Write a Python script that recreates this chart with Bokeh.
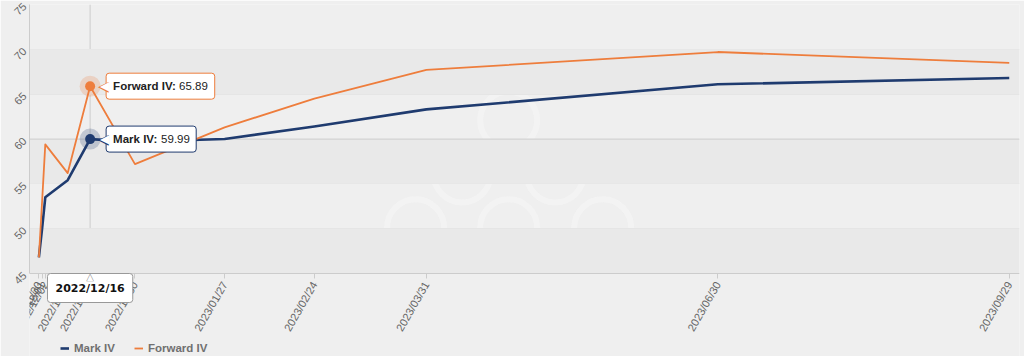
import numpy as np
from bokeh.plotting import figure
from bokeh.models import (Range1d, FixedTicker, DatetimeTickFormatter, Span, Label,
                          BoxAnnotation, Legend, LegendItem)
from bokeh.embed import file_html
from bokeh.resources import INLINE

# ---------------- data ----------------
DATES = ["2022-11-30", "2022-12-01", "2022-12-02", "2022-12-09", "2022-12-16",
         "2022-12-30", "2023-01-27", "2023-02-24", "2023-03-31", "2023-06-30",
         "2023-09-29"]
MARK_IV = [46.8, 50.0, 53.5, 55.4, 59.99, 59.7, 60.0, 61.4, 63.3, 66.1, 66.8]
FORWARD_IV = [46.8, 53.0, 59.4, 56.2, 65.89, 57.2, 61.3, 64.5, 67.7, 69.7, 68.5]
Y_TICKS = [45, 50, 55, 60, 65, 70, 75]
SERIES = ["Mark IV", "Forward IV"]
HOVER_INDEX = 4
HOVER_LABEL = "2022/12/16"

NAVY = "#1f3b6f"
ORANGE = "#ee7d3c"
BG = "#efefef"
BAND = "#e9e9e9"
DAY = 86400000.0

x = np.array(DATES, dtype="datetime64[ms]").astype("int64").astype(float)

FONT = "Liberation Sans"

# layout: value axis spans 269 px; the area below (83 px) holds the date axis + legend
PLOT_PX = 269.0
BELOW_PX = 83.0
ymin, ymax = Y_TICKS[0], Y_TICKS[-1]
px_per_unit = PLOT_PX / (ymax - ymin)

p = figure(width=1024, height=356, x_axis_type="datetime", output_backend="svg",
           toolbar_location=None,
           x_range=Range1d(x[0] - 2.93 * DAY, x[-1] + 3.2 * DAY),
           y_range=Range1d(ymin - BELOW_PX / px_per_unit, ymax),
           min_border_left=29, min_border_right=5, min_border_top=4, min_border_bottom=0)
p.background_fill_color = BG
p.border_fill_color = BG
p.outline_line_color = None

# alternate bands
for i in range(0, len(Y_TICKS) - 1, 2):
    p.add_layout(BoxAnnotation(bottom=Y_TICKS[i], top=Y_TICKS[i + 1], fill_color=BAND,
                               fill_alpha=1, line_color=None, level="underlay"))

# grid
p.xgrid.grid_line_color = None
p.ygrid.ticker = FixedTicker(ticks=Y_TICKS)
p.ygrid.grid_line_color = "#e3e3e3"

# axes
fmt = "%Y/%m/%d"
xa = p.xaxis[0]
xa.fixed_location = ymin
xa.ticker = FixedTicker(ticks=list(x))
xa.formatter = DatetimeTickFormatter(
    microseconds=fmt, milliseconds=fmt, seconds=fmt, minsec=fmt, minutes=fmt,
    hourmin=fmt, hours=fmt, days=fmt, months=fmt, years=fmt)
xa.major_label_orientation = np.pi / 3
xa.axis_line_color = "#cccccc"
xa.major_tick_line_color = "#cccccc"
xa.major_tick_out = 5
xa.major_tick_in = 0
xa.minor_tick_line_color = None
xa.major_label_standoff = 4
xa.major_label_text_font = FONT
xa.major_label_text_font_size = "11px"
xa.major_label_text_color = "#666666"

ya = p.yaxis[0]
ya.ticker = FixedTicker(ticks=Y_TICKS)
ya.bounds = (ymin, ymax)
ya.major_label_orientation = np.pi / 4
ya.axis_line_color = "#cccccc"
ya.major_tick_line_color = None
ya.minor_tick_line_color = None
ya.major_tick_out = 0
ya.major_label_standoff = 5
ya.major_label_text_font = FONT
ya.major_label_text_font_size = "11px"
ya.major_label_text_color = "#666666"

# watermark (decorative rings), positioned as fractions of the value area
x0, x1 = p.x_range.start, p.x_range.end
WM = [(0.484, 0.43), (0.437, 0.63), (0.531, 0.63), (0.390, 0.83), (0.484, 0.83), (0.579, 0.83)]
wx = [x0 + fx * (x1 - x0) for fx, fy in WM]
wy = [ymax - fy * (ymax - ymin) for fx, fy in WM]
p.circle(wx, wy, radius=28.5, radius_units="screen", fill_color=None,
         line_color="#f5f5f5", line_alpha=0.7, line_width=6, level="underlay")

# crosshairs
hx = x[HOVER_INDEX]
p.segment(x0=[hx], y0=[ymin], x1=[hx], y1=[ymax], line_color="#cccccc", line_width=1,
          level="underlay")
p.add_layout(Span(location=MARK_IV[HOVER_INDEX], dimension="width", line_color="#cccccc",
                  line_width=1, level="underlay"))

renderers = []
for vals, col, lw in [(MARK_IV, NAVY, 2.6), (FORWARD_IV, ORANGE, 1.8)]:
    r = p.line(x, vals, line_color=col, line_width=lw, line_join="round")
    renderers.append(r)

# hover markers
for vals, col in [(MARK_IV, NAVY), (FORWARD_IV, ORANGE)]:
    p.scatter([hx], [vals[HOVER_INDEX]], size=21, fill_color=col, fill_alpha=0.22, line_color=None)
    p.scatter([hx], [vals[HOVER_INDEX]], size=10, fill_color=col, line_color=None)

# tooltips
TIP_FONT_SIZE = "11.5px"
for name, vals, col, num_off in [(SERIES[1], FORWARD_IV, ORANGE, 89),
                                 (SERIES[0], MARK_IV, NAVY, 71)]:
    v = vals[HOVER_INDEX]
    full = f"{name}: {v:.2f}"
    p.add_layout(Label(x=hx, y=v, x_offset=16, text=full, text_color="white",
                       text_font=FONT, text_font_size=TIP_FONT_SIZE, text_font_style="bold",
                       text_baseline="middle", text_align="left", padding=7,
                       background_fill_color="white", border_line_color=col,
                       border_line_width=1, border_radius=3))
    p.add_layout(Label(x=hx, y=v, x_offset=8, text="◀", text_color=col,
                       text_font="DejaVu Sans", text_font_size="14px",
                       text_baseline="middle", text_align="left"))
    p.add_layout(Label(x=hx, y=v, x_offset=10, text="◀", text_color="white",
                       text_font="DejaVu Sans", text_font_size="12px",
                       text_baseline="middle", text_align="left"))
    p.add_layout(Label(x=hx, y=v, x_offset=23, text=f"{name}:", text_color="#222222",
                       text_font=FONT, text_font_size=TIP_FONT_SIZE, text_font_style="bold",
                       text_baseline="middle", text_align="left"))
    p.add_layout(Label(x=hx, y=v, x_offset=num_off, text=f"{v:.2f}",
                       text_color="#222222", text_font=FONT, text_font_size=TIP_FONT_SIZE,
                       text_baseline="middle", text_align="left"))

# date tooltip under the axis
p.add_layout(Label(x=hx, y=ymin, y_offset=-14.5, text=HOVER_LABEL, text_color="#111111",
                   text_font="DejaVu Sans", text_font_size="11px", text_font_style="bold",
                   text_baseline="middle", text_align="center", padding=8,
                   background_fill_color="white", border_line_color="#999999",
                   border_line_width=1, border_radius=3))
p.add_layout(Label(x=hx, y=ymin, y_offset=-3, text="▲", text_color="#999999",
                   text_font="DejaVu Sans", text_font_size="10px",
                   text_baseline="middle", text_align="center"))
p.add_layout(Label(x=hx, y=ymin, y_offset=-4, text="▲", text_color="white",
                   text_font="DejaVu Sans", text_font_size="8px",
                   text_baseline="middle", text_align="center"))

# legend at the bottom
legend = Legend(items=[LegendItem(label=SERIES[0], renderers=[renderers[0]]),
                       LegendItem(label=SERIES[1], renderers=[renderers[1]])],
                orientation="horizontal", location=(31, 2),
                background_fill_alpha=0, border_line_color=None,
                label_text_font=FONT, label_text_font_size="11.5px",
                label_text_font_style="bold", label_text_color="#707070",
                glyph_width=9, glyph_height=12, spacing=19, label_standoff=5,
                padding=0, margin=0)
p.add_layout(legend, "center")

open("out.html", "w").write(file_html(p, INLINE))
